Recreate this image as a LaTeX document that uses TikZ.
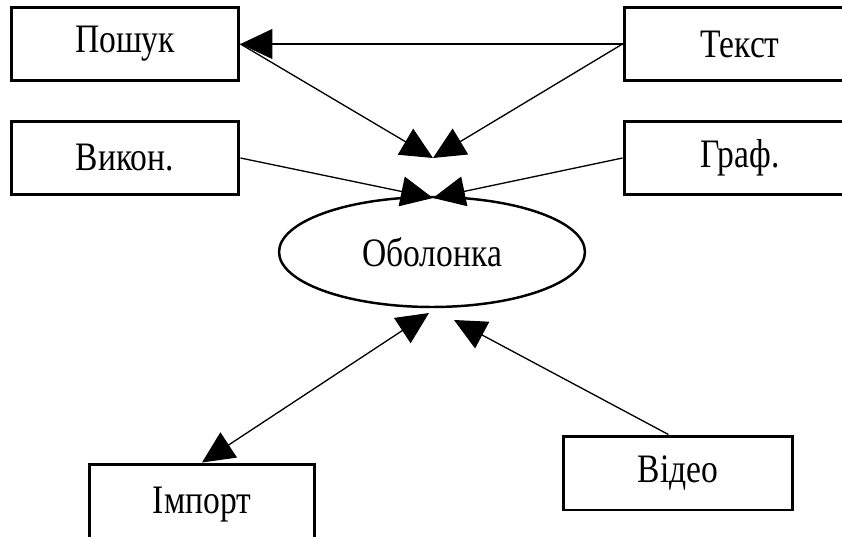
\documentclass[tikz,border=0pt]{standalone}
\usepackage{fontspec}
\setmainfont{Liberation Serif}[FakeStretch=0.83]
\usepackage{tikz}
\usetikzlibrary{arrows.meta,shapes.geometric}
\tikzset{block/.style={draw,line width=1.7pt,minimum width=4.56cm,minimum height=1.46cm,font=\fontsize{23}{27}\selectfont},
  shell/.style={draw,ellipse,line width=1.4pt,minimum width=6.12cm,minimum height=2.2cm,font=\fontsize{23}{27}\selectfont},
  link/.style={line width=0.75pt}}

\begin{document}
\begin{tikzpicture}[x=0.02cm,y=-0.02cm,>={Triangle[length=0.64cm,width=0.6cm]}]
  \clip (0,0) rectangle (842,537);
  \node[block] (search) at (125,44) {Пошук};
  \node[block,minimum width=4.64cm] (text) at (740,44) {Текст};
  \node[block] (exec) at (125,158) {Викон.};
  \node[block,minimum width=4.64cm] (graph) at (740,158) {Граф.};
  \node[shell] (shell) at (432,252) {Оболонка};
  \node[block,minimum width=4.5cm,minimum height=1.64cm] (import) at (202,505) {Імпорт};
  \node[block,minimum width=4.58cm,minimum height=1.48cm] (video) at (678,473) {Відео};

  \coordinate (top) at (433,158);
  \coordinate (mid) at (433,198);
  \coordinate (lowl) at (429,313);
  \coordinate (lowr) at (454,320);

  \draw[link,->] (text.west) -- (search.east);
  \draw[link,->] (search.east) -- (top);
  \draw[link,->] (text.west) -- (top);
  \draw[link,->] (exec.east) -- (mid);
  \draw[link,->] (graph.west) -- (mid);
  \draw[link,<->] (import.north) -- (lowl);
  \draw[link,->] (video.104) -- (lowr);
\end{tikzpicture}
\end{document}
